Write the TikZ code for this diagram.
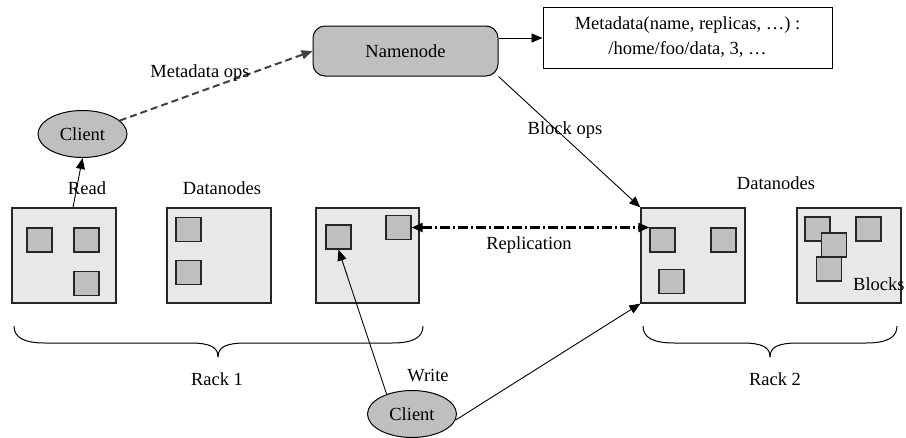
\documentclass[tikz,border=0pt]{standalone}
\usepackage{fontspec}
\setmainfont{Liberation Serif}
\usetikzlibrary{arrows.meta,shapes.geometric}
\begin{document}
\begin{tikzpicture}[x=1pt,y=-1pt,
  every node/.style={font=\fontsize{18.5}{25}\selectfont},
  lbl/.style={inner sep=0pt},
  dn/.style={draw=black!85, line width=1.3pt, fill=gray!18, minimum width=104pt, minimum height=95pt, inner sep=0pt},
  blk/.style={draw=black!85, line width=1.3pt, fill=gray!50, minimum width=25pt, minimum height=24pt, inner sep=0pt},
  client/.style={ellipse, draw=black, line width=1pt, fill=gray!50, minimum width=89pt, minimum height=47pt, inner sep=0pt},
  arr/.style={-{Triangle[length=11pt,width=9pt]}, line width=0.9pt},
  brace/.style={line width=1pt}
]
\useasboundingbox (0,0) rectangle (906,437);

% Namenode and metadata
\node[draw=black, line width=1pt, fill=gray!50, rounded corners=12pt, minimum width=185pt, minimum height=50pt, inner sep=0pt] (nn) at (405.5,51) {Namenode};
\node[draw=black, line width=1pt, fill=white, minimum width=289pt, minimum height=61pt, align=center, inner sep=0pt] (meta) at (687.5,37.5) {Metadata(name, replicas, …) :\\/home/foo/data, 3, …};

% Clients
\node[client] (c1) at (82.5,134) {Client};
\node[client] (c2) at (412,414) {Client};

% Datanodes
\node[dn] (d1) at (64,255.5) {};
\node[dn] (d2) at (219,255.5) {};
\node[dn, minimum width=103pt] (d3) at (367.5,255.5) {};
\node[dn] (d4) at (693,255.5) {};
\node[dn] (d5) at (849,255.5) {};

% Blocks
\node[blk] (b1a) at (39.5,240) {};
\node[blk] (b1b) at (86.5,240) {};
\node[blk] (b1c) at (86.5,283.5) {};
\node[blk] (b2a) at (188.5,229.5) {};
\node[blk] (b2b) at (188.5,272.5) {};
\node[blk] (b3a) at (338.5,237) {};
\node[blk] (b3b) at (398.5,227.5) {};
\node[blk] (b4a) at (662.5,240) {};
\node[blk] (b4b) at (723.5,240) {};
\node[blk] (b4c) at (671.5,281.5) {};
\node[blk] (b5a) at (817.5,229) {};
\node[blk] (b5b) at (868.5,229) {};
\node[blk] (b5c) at (834,245) {};
\node[blk] (b5d) at (829,269) {};

% Connectors
\draw[arr] ([yshift=13pt]nn.east) -- ([yshift=13pt]nn.east -| meta.west);
\draw[arr, black!75, line width=2pt, dash pattern=on 7pt off 4pt] (c1) -- (nn.west);
\draw[arr] ([xshift=9pt]d1.north) -- (c1.south);
\draw[arr] (nn.south east) -- (d4.north west);
\draw[{Triangle[length=11pt,width=9pt]}-{Triangle[length=11pt,width=9pt]}, line width=2.2pt, dash pattern=on 10pt off 3pt on 2pt off 3pt] (b3b.east) -- (b3b.east -| b4a.west);
\draw[arr] (c2.142) -- (b3a.south);
\draw[arr] (c2.-8) -- (d4.south west);

% Braces
\draw[brace] (14,326) .. controls (14,338) and (25,343) .. (45,343) -- (190,343) .. controls (210,343) and (218,347) .. (218,357);
\draw[brace] (423,326) .. controls (423,338) and (412,343) .. (392,343) -- (246,343) .. controls (226,343) and (218,347) .. (218,357);
\draw[brace] (643,326) .. controls (643,338) and (654,343) .. (674,343) -- (742,343) .. controls (762,343) and (770,347) .. (770,357);
\draw[brace] (897,326) .. controls (897,338) and (886,343) .. (866,343) -- (798,343) .. controls (778,343) and (770,347) .. (770,357);

% Labels
\node[lbl] (lmo) at (200,73) {Metadata ops};
\node[lbl] (lread) at (87,188) {Read};
\node[lbl] (ldn1) at (222,188) {Datanodes};
\node[lbl] (ldn2) at (776,183) {Datanodes};
\node[lbl] (lbo) at (565,130) {Block ops};
\node[lbl] (lrep) at (529,245) {Replication};
\node[lbl] (lwr) at (428,376) {Write};
\node[lbl] (lr1) at (217,379) {Rack 1};
\node[lbl] (lr2) at (775,379) {Rack 2};
\node[lbl, anchor=west] (lblk) at (853,284) {Blocks};
\end{tikzpicture}
\end{document}
